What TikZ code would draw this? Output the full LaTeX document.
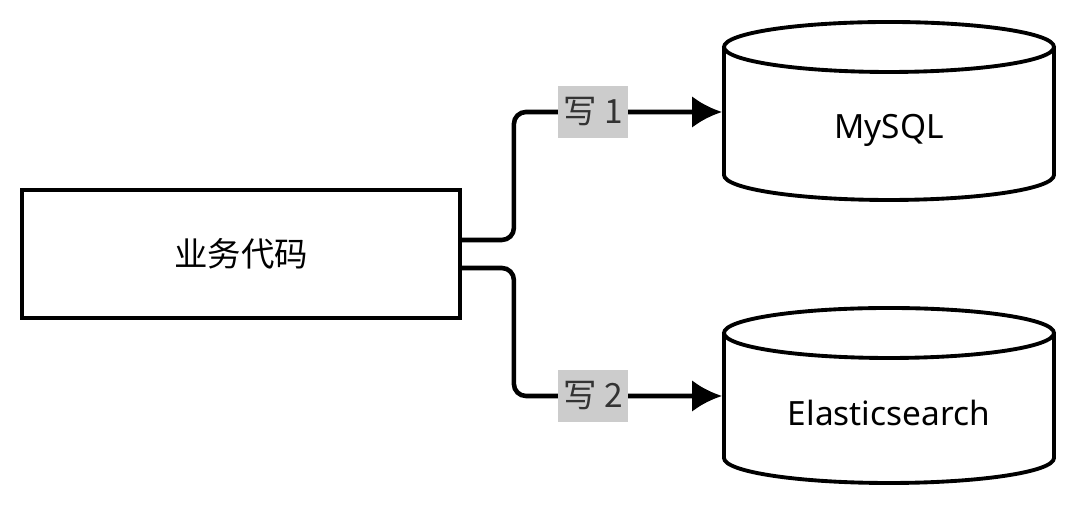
\documentclass[tikz,border=0pt]{standalone}
\usepackage{fontspec}
\setmainfont{Noto Sans}
\newfontfamily\cjk{Noto Sans CJK SC}
\usetikzlibrary{arrows.meta}
\begin{document}
\begin{tikzpicture}[x=0.01cm,y=0.01cm,font=\fontsize{9.5}{11}\selectfont,
  box/.style={draw,line width=1pt,minimum width=4.38cm,minimum height=1.28cm},
  db/.style={line width=1.1pt},
  flow/.style={line width=1.3pt,rounded corners=0.12cm,-{Latex[length=8.5pt,width=9pt]}},
  lbl/.style={sharp corners,fill=black!20,text=black!80,inner xsep=1.5pt,minimum height=0.5cm,font=\cjk\fontsize{9.5}{11}\selectfont}]
\useasboundingbox (0,0) rectangle (1080,510);
\node[box] (biz) at (241,256) {\cjk 业务代码};
\draw[db] (889,463) ellipse [x radius=165, y radius=25];
\draw[db] (724,463) -- (724,335) arc[start angle=180,end angle=360,x radius=165,y radius=25] -- (1054,463);
\node (mysql) at (889,380) {MySQL};
\draw[db] (889,177) ellipse [x radius=165, y radius=25];
\draw[db] (724,177) -- (724,52) arc[start angle=180,end angle=360,x radius=165,y radius=25] -- (1054,177);
\node (es) at (889,97) {Elasticsearch};
\coordinate (mysqlin) at (722,398);
\coordinate (esin) at (722,114);
\draw[flow] ([yshift=0.14cm]biz.east) -- ++(52,0) |- (mysqlin) node[lbl,pos=0.69] {写 1};
\draw[flow] ([yshift=-0.14cm]biz.east) -- ++(52,0) |- (esin) node[lbl,pos=0.69] {写 2};
\end{tikzpicture}
\end{document}
